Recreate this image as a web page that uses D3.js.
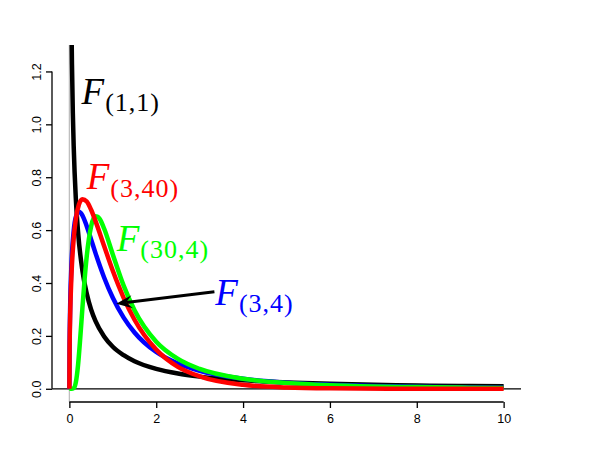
<!DOCTYPE html>
<html>
<head>
<meta charset="utf-8">
<script src="https://cdn.jsdelivr.net/npm/d3@7"></script>
<style>
  body { margin: 0; background: #fff; }
  svg { display: block; }
</style>
</head>
<body>
<script>
// density curves (x on the horizontal axis, density on the vertical)
var xF11 = [0.02, 0.04, 0.05, 0.06, 0.08, 0.1, 0.15, 0.2, 0.3, 0.4, 0.5, 0.6, 0.8, 1, 1.25, 1.5, 2, 2.5, 3, 4, 5, 6, 7, 8, 9, 10];
var yF11 = [2.207, 1.530, 1.356, 1.226, 1.042, 0.915, 0.715, 0.593, 0.447, 0.360, 0.300, 0.257, 0.198, 0.159, 0.127, 0.104, 0.075, 0.0575, 0.046, 0.032, 0.024, 0.0186, 0.015, 0.0125, 0.0106, 0.0092];

var xF34 = [0, 0.005, 0.01, 0.02, 0.05, 0.1, 0.15, 0.22, 0.3, 0.4, 0.5, 0.6, 0.8, 1, 1.25, 1.5, 2, 2.5, 3, 4, 5, 6, 7, 8, 9, 10];
var yF34 = [0, 0.170, 0.237, 0.327, 0.479, 0.598, 0.650, 0.669, 0.656, 0.615, 0.565, 0.514, 0.421, 0.344, 0.269, 0.213, 0.139, 0.096, 0.068, 0.038, 0.023, 0.0153, 0.0106, 0.0076, 0.0056, 0.0043];

var xF340 = [0, 0.005, 0.01, 0.02, 0.05, 0.1, 0.15, 0.22, 0.3, 0.4, 0.5, 0.6, 0.8, 1, 1.25, 1.5, 2, 2.5, 3, 4, 5, 6, 8, 10];
var yF340 = [0, 0.148, 0.208, 0.289, 0.436, 0.569, 0.643, 0.697, 0.717, 0.708, 0.677, 0.635, 0.540, 0.446, 0.344, 0.261, 0.148, 0.083, 0.047, 0.015, 0.005, 0.0018, 0.0002, 0];

var xF304 = [0, 0.05, 0.1, 0.15, 0.2, 0.25, 0.3, 0.35, 0.4, 0.5, 0.6, 0.65, 0.7, 0.8, 1, 1.25, 1.5, 2, 2.5, 3, 4, 5, 6, 7, 8, 9, 10];
var yF304 = [0, 0, 0.0024, 0.0255, 0.090, 0.191, 0.305, 0.412, 0.501, 0.614, 0.652, 0.651, 0.642, 0.606, 0.508, 0.390, 0.297, 0.178, 0.113, 0.075, 0.038, 0.022, 0.0136, 0.009, 0.0063, 0.0046, 0.0034];

var xTicks = [0, 2, 4, 6, 8, 10];
var yTicks = [0, 0.2, 0.4, 0.6, 0.8, 1.0, 1.2];

var width = 600, height = 452;
var plot = { left: 52, right: 521, top: 45, bottom: 402 };

var svg = d3.select('body').append('svg')
  .attr('width', width).attr('height', height);

var x = d3.scaleLinear().domain([-0.4, 10.4]).range([plot.left, plot.right]);
var y = d3.scaleLinear().domain([-0.05, 1.30]).range([plot.bottom, plot.top]);

svg.append('clipPath').attr('id', 'clip')
  .append('rect')
  .attr('x', plot.left).attr('y', plot.top)
  .attr('width', plot.right - plot.left).attr('height', plot.bottom - plot.top);

// reference lines
svg.append('line')
  .attr('x1', x(0)).attr('x2', x(0))
  .attr('y1', plot.top).attr('y2', plot.bottom)
  .attr('stroke', '#bebebe').attr('stroke-width', 1.3);
svg.append('line')
  .attr('x1', plot.left).attr('x2', plot.right)
  .attr('y1', y(0)).attr('y2', y(0))
  .attr('stroke', '#000').attr('stroke-width', 1.3);

// axes
var xAxis = d3.axisBottom(x).tickValues(xTicks).tickSize(6).tickPadding(6)
  .tickFormat(d3.format('d'));
var gx = svg.append('g')
  .attr('transform', 'translate(0,' + plot.bottom + ')')
  .call(xAxis);
gx.select('.domain').attr('d', 'M' + x(0) + ',0H' + x(10));

var yAxis = d3.axisLeft(y).tickValues(yTicks).tickSize(6).tickPadding(0)
  .tickFormat(d3.format('.1f'));
var gy = svg.append('g')
  .attr('transform', 'translate(' + plot.left + ',0)')
  .call(yAxis);
gy.select('.domain').attr('d', 'M0,' + y(0) + 'V' + y(1.2));
gy.selectAll('.tick text')
  .attr('x', null).attr('dy', null)
  .attr('text-anchor', 'middle')
  .attr('transform', 'translate(-15,0) rotate(-90)')
  .attr('dy', '0.35em');

svg.selectAll('.tick text')
  .attr('font-family', 'Liberation Sans, Arial, sans-serif')
  .attr('font-size', 12.5)
  .attr('fill', '#000');
svg.selectAll('.domain, .tick line').attr('stroke', '#000').attr('stroke-width', 1.3);

// curves
var line = d3.line()
  .x(function(d) { return x(d[0]); })
  .y(function(d) { return y(d[1]); })
  .curve(d3.curveMonotoneX);

var series = [
  { xs: xF11, ys: yF11, color: '#000000' },
  { xs: xF34, ys: yF34, color: '#0000ff' },
  { xs: xF304, ys: yF304, color: '#00ff00' },
  { xs: xF340, ys: yF340, color: '#ff0000' }
];

var curves = svg.append('g').attr('clip-path', 'url(#clip)');
series.forEach(function(s) {
  curves.append('path')
    .datum(d3.zip(s.xs, s.ys))
    .attr('d', line)
    .attr('fill', 'none')
    .attr('stroke', s.color)
    .attr('stroke-width', 4.5)
    .attr('stroke-linejoin', 'round');
});

// arrow pointing at the F(3,4) curve
var ax0 = 3.34, ay0 = 0.367, ax1 = 1.08, ay1 = 0.322;
var p0 = [x(ax0), y(ay0)], p1 = [x(ax1), y(ay1)];
var ang = Math.atan2(p1[1] - p0[1], p1[0] - p0[0]);
var headLen = 16, headW = 6.5;
function rot(dx, dy) {
  return [p1[0] + dx * Math.cos(ang) - dy * Math.sin(ang),
          p1[1] + dx * Math.sin(ang) + dy * Math.cos(ang)];
}
svg.append('line')
  .attr('x1', p0[0]).attr('y1', p0[1])
  .attr('x2', rot(-10, 0)[0]).attr('y2', rot(-10, 0)[1])
  .attr('stroke', '#000').attr('stroke-width', 3);
svg.append('path')
  .attr('d', 'M' + p1 + 'L' + rot(-headLen, -headW) + 'L' + rot(-10, 0) + 'L' + rot(-headLen, headW) + 'Z')
  .attr('fill', '#000');

// labels
var labels = [
  { sub: '(1,1)', xv: 0.28, yv: 1.077, color: '#000000' },
  { sub: '(3,40)', xv: 0.40, yv: 0.755, color: '#ff0000' },
  { sub: '(30,4)', xv: 1.09, yv: 0.522, color: '#00ff00' },
  { sub: '(3,4)', xv: 3.36, yv: 0.318, color: '#0000ff' }
];

labels.forEach(function(l) {
  var t = svg.append('text')
    .attr('x', x(l.xv)).attr('y', y(l.yv))
    .attr('font-family', 'Liberation Serif, Times New Roman, serif')
    .attr('fill', l.color);
  t.append('tspan')
    .attr('font-style', 'italic')
    .attr('font-size', 37)
    .text('F');
  t.append('tspan')
    .attr('font-size', 26)
    .attr('letter-spacing', 1)
    .attr('dx', 1)
    .attr('dy', 7.5)
    .text(l.sub);
});
</script>
</body>
</html>
